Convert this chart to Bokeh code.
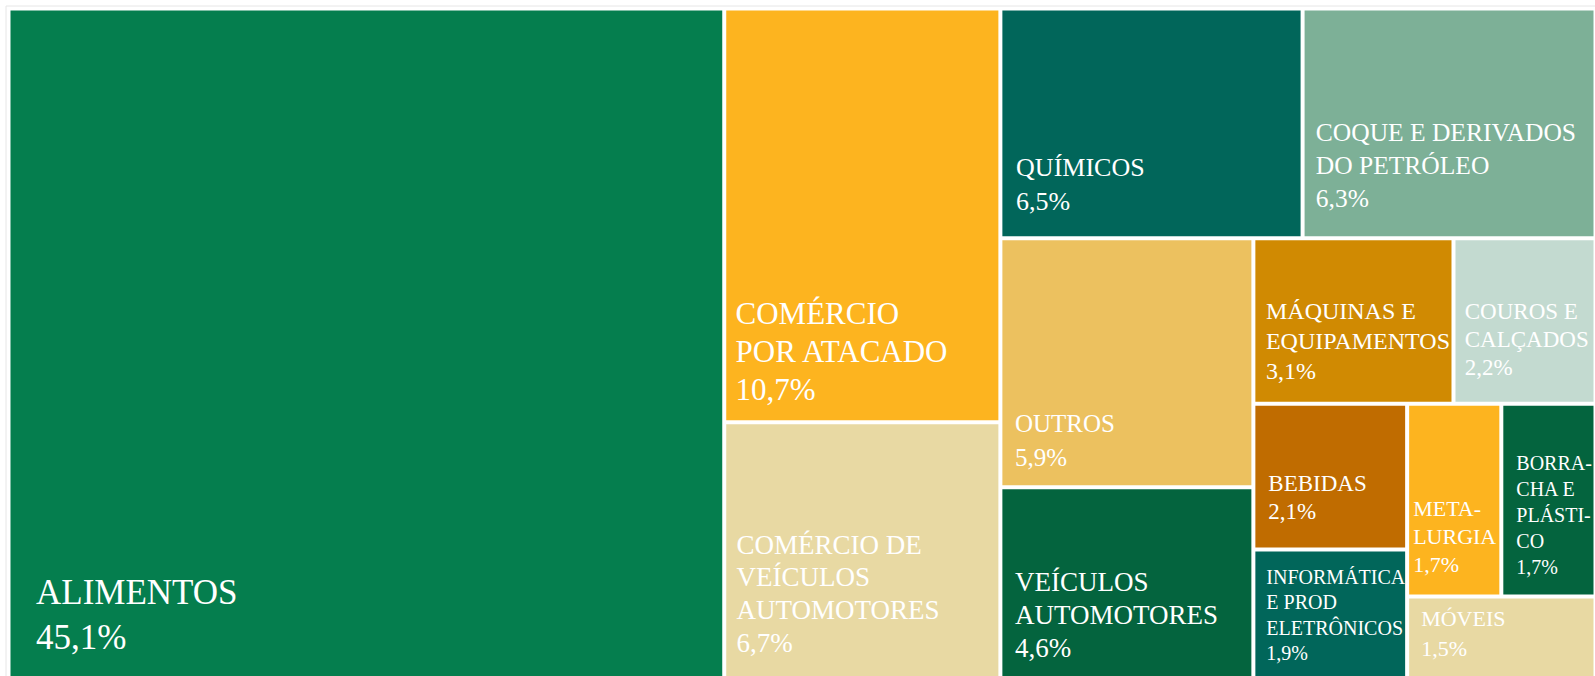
from bokeh.plotting import figure
from bokeh.models import ColumnDataSource, Range1d
from bokeh.core.properties import value
from bokeh.embed import file_html
from bokeh.resources import INLINE

# ---------------- data ----------------
categories = [
    "ALIMENTOS",
    "COMÉRCIO\nPOR ATACADO",
    "COMÉRCIO DE\nVEÍCULOS\nAUTOMOTORES",
    "QUÍMICOS",
    "COQUE E DERIVADOS\nDO PETRÓLEO",
    "OUTROS",
    "VEÍCULOS\nAUTOMOTORES",
    "MÁQUINAS E\nEQUIPAMENTOS",
    "COUROS E\nCALÇADOS",
    "BEBIDAS",
    "INFORMÁTICA\nE PROD\nELETRÔNICOS",
    "META-\nLURGIA",
    "BORRA-\nCHA E\nPLÁSTI-\nCO",
    "MÓVEIS",
]
shares = [45.1, 10.7, 6.7, 6.5, 6.3, 5.9, 4.6, 3.1, 2.2, 2.1, 1.9, 1.7, 1.7, 1.5]

# ---------------- styles ----------------
colors = ["#057E4E", "#FDB41F", "#E8D9A3", "#01665A", "#7DB097", "#ECC15F", "#04643E",
          "#D08A02", "#C3DAD0", "#C06C00", "#01665A", "#FDB41F", "#04643E", "#E8D9A3"]
font_px = [35, 31, 27, 26, 25.5, 25, 27, 24, 23, 23, 20, 22, 20, 22]
line_px = [45, 38, 32.7, 34, 33, 34, 33, 30.3, 28.3, 28, 25.5, 28.3, 26, 29.7]
pad_left = [27.5, 11.3, 12.3, 15.7, 13.2, 14.6, 14.6, 12.6, 11.3, 15, 13, 6, 15, 14]
pad_bottom = [29.3, 20.2, 27.7, 26, 29.4, 19.1, 22.7, 22.5, 26.5, 29, 20.3, 22.7, 21, 24.3]
BASELINE_FIX = 0.41   # renderer places the alphabetic baseline lower; compensate

FIG_W, FIG_H = 1595, 676
ORIGIN_X, ORIGIN_Y = 8.0, 8.0
TM_W, TM_H = 1587, 673
GAP = 2.0
RATIO = 1.1


def squarify(vals, x0, y0, x1, y1, ratio):
    rects = [None] * len(vals)
    total = float(sum(vals))
    n = len(vals)
    i0 = 0
    while i0 < n:
        dx, dy = x1 - x0, y1 - y0
        i1 = i0
        s = vals[i1]
        i1 += 1
        mn = mx = s
        alpha = max(dy / dx, dx / dy) / (total * ratio)
        beta = s * s * alpha
        best = max(mx / beta, beta / mn)
        while i1 < n:
            v = vals[i1]
            s2 = s + v
            mn2, mx2 = min(mn, v), max(mx, v)
            beta = s2 * s2 * alpha
            r = max(mx2 / beta, beta / mn2)
            if r > best:
                break
            s, mn, mx, best = s2, mn2, mx2, r
            i1 += 1
        if dx < dy:
            h = dy * s / total
            cx = x0
            for k in range(i0, i1):
                w = dx * vals[k] / s
                rects[k] = (cx, y0, cx + w, y0 + h)
                cx += w
            y0 += h
        else:
            w = dx * s / total
            cy = y0
            for k in range(i0, i1):
                h = dy * vals[k] / s
                rects[k] = (x0, cy, x0 + w, cy + h)
                cy += h
            x0 += w
        total -= s
        i0 = i1
    return rects


rects = squarify(shares, ORIGIN_X, ORIGIN_Y, ORIGIN_X + TM_W, ORIGIN_Y + TM_H, RATIO)

cells = ColumnDataSource(dict(
    left=[r[0] + GAP for r in rects],
    right=[r[2] - GAP for r in rects],
    top=[r[1] + GAP for r in rects],
    bottom=[r[3] - GAP for r in rects],
    color=colors,
    name=[c.replace("\n", " ") for c in categories],
    share=shares,
))

tx, ty, tt, ts = [], [], [], []
for i, (cat, v) in enumerate(zip(categories, shares)):
    pct = ("%.1f" % v).replace(".", ",") + "%"
    lines = cat.split("\n") + [pct]
    n = len(lines)
    x0, y0, x1, y1 = rects[i]
    for j, line in enumerate(lines):
        tx.append(x0 + pad_left[i])
        ty.append(y1 - pad_bottom[i] - (n - 1 - j) * line_px[i] - BASELINE_FIX * font_px[i])
        tt.append(line)
        ts.append("%spx" % font_px[i])

labels = ColumnDataSource(dict(x=tx, y=ty, text=tt, size=ts))

p = figure(width=FIG_W, height=FIG_H, output_backend="svg", toolbar_location=None,
           x_range=Range1d(0, FIG_W), y_range=Range1d(FIG_H, 0),
           x_axis_location=None, y_axis_location=None, min_border=0)
p.grid.visible = False
p.outline_line_color = None
p.background_fill_color = "white"
p.border_fill_color = "white"

# faint frame around the treemap area
fx0, fy0 = ORIGIN_X - 2.5, ORIGIN_Y - 2.5
p.segment(x0=[fx0, fx0], y0=[fy0, fy0], x1=[FIG_W, fx0], y1=[fy0, FIG_H],
          line_color="#e6e6e6", line_width=1)

p.quad(left="left", right="right", top="top", bottom="bottom", source=cells,
       fill_color="color", line_color=None)
p.text(x="x", y="y", text="text", source=labels, text_font=value("Liberation Serif"),
       text_font_size="size", text_color="white", text_align="left",
       text_baseline="alphabetic")

open("out.html", "w").write(file_html(p, INLINE))
